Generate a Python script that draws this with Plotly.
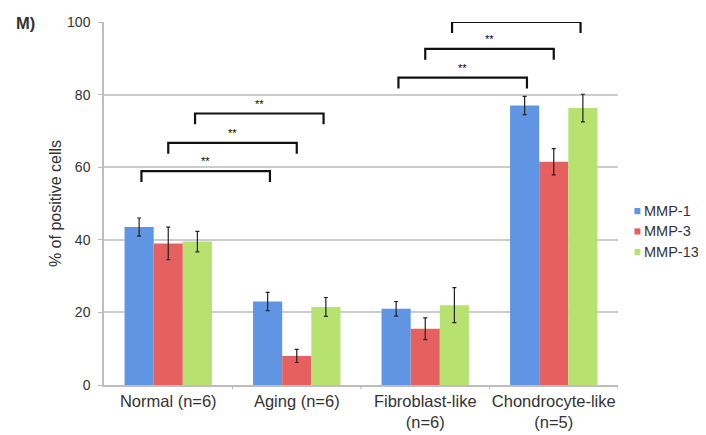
import plotly.graph_objects as go

categories = ["Normal (n=6)", "Aging (n=6)", "Fibroblast-like<br>(n=6)", "Chondrocyte-like<br>(n=5)"]
series_names = ["MMP-1", "MMP-3", "MMP-13"]
mmp1 = [43.5, 23.0, 21.0, 77.0]
mmp1_err = [2.5, 2.5, 2.0, 2.5]
mmp3 = [39.0, 8.0, 15.5, 61.5]
mmp3_err = [4.5, 1.8, 3.0, 3.6]
mmp13 = [39.5, 21.5, 22.0, 76.3]
mmp13_err = [2.8, 2.6, 4.8, 3.8]
colors = ["#5f95e2", "#e66060", "#b7e270"]

# significance brackets: (from group, to group, series index, height)
br_from = [0, 0, 0, 2, 2, 2]
br_to = [1, 1, 1, 3, 3, 3]
br_series = [0, 1, 2, 0, 1, 2]
br_height = [58.9, 66.7, 74.8, 84.7, 92.6, 100.0]
br_label = ["**"] * 6

fig = go.Figure()
for name, vals, errs, col in zip(series_names, [mmp1, mmp3, mmp13],
                                 [mmp1_err, mmp3_err, mmp13_err], colors):
    fig.add_trace(go.Bar(
        x=list(range(len(categories))), y=vals, name=name, showlegend=False,
        marker=dict(color=col, line=dict(width=0)),
        error_y=dict(type="data", array=errs, color="#222222",
                     thickness=1.2, width=2),
    ))

bargap = 0.32
bw = (1 - bargap) / 3
offs = [-bw * 0.92, 0.0, bw * 0.92]
for f, t, s, h, lab in zip(br_from, br_to, br_series, br_height, br_label):
    x0 = f + offs[s]
    x1 = t + offs[s]
    drop = 3.0
    fig.add_shape(type="path",
                  path=f"M {x0} {h-drop} L {x0} {h} L {x1} {h} L {x1} {h-drop}",
                  xref="x", yref="y", line=dict(color="#111111", width=2.2))
    fig.add_annotation(x=(x0 + x1) / 2, y=h + 0.5, text=lab, showarrow=False,
                       xref="x", yref="y", yanchor="bottom",
                       font=dict(size=11, color="#000000", family="Liberation Sans"))

# legend (small square swatches placed close to their labels)
leg_y = [0.479, 0.423, 0.366]
for name, col, yy in zip(series_names, colors, leg_y):
    fig.add_shape(type="rect", xref="paper", yref="paper",
                  x0=1.032, x1=1.0435, y0=yy - 0.0085, y1=yy + 0.0085,
                  fillcolor=col, line=dict(width=0))
    fig.add_annotation(x=1.046, y=yy, xref="paper", yref="paper", text=name,
                       showarrow=False, xanchor="left", yanchor="middle",
                       font=dict(size=14.5, color="#333333", family="Liberation Sans"))

fig.add_annotation(x=-0.175, y=0.997, xref="paper", yref="paper", text="<b>M)</b>",
                   showarrow=False, xanchor="left", yanchor="middle",
                   font=dict(size=16.5, color="#333333", family="Liberation Sans"))

fig.update_layout(
    width=698, height=427,
    margin=dict(l=96, r=88, t=14, b=50, autoexpand=False),
    paper_bgcolor="white", plot_bgcolor="white",
    barmode="group", bargap=bargap, bargroupgap=0,
    font=dict(family="Liberation Sans", size=14, color="#333333"),
    showlegend=False,
)
fig.update_xaxes(
    tickmode="array", tickvals=list(range(len(categories))), ticktext=categories,
    range=[-0.5, 3.5], showgrid=False, showline=True, linecolor="#bdbdbd",
    linewidth=1.5, ticks="", tickfont=dict(size=16.5, color="#333333"),
)
fig.update_yaxes(
    range=[0, 100], tickvals=[0, 20, 40, 60, 80, 100], showgrid=True,
    gridcolor="#cccccc", gridwidth=1.5, showline=True, linecolor="#bdbdbd",
    linewidth=1.5, ticks="outside", ticklen=4, tickcolor="#bdbdbd",
    ticklabelstandoff=5,
    tickfont=dict(size=14, color="#333333"), zeroline=False,
    title=dict(text="% of positive cells", font=dict(size=16, color="#333333"), standoff=1),
)
# category boundary ticks on x axis
for b in [0.5, 1.5, 2.5, 3.5]:
    fig.add_shape(type="line", x0=b, x1=b, y0=0, y1=-0.012, xref="x", yref="paper",
                  line=dict(color="#bdbdbd", width=1.2))

fig.write_html("out.html")
